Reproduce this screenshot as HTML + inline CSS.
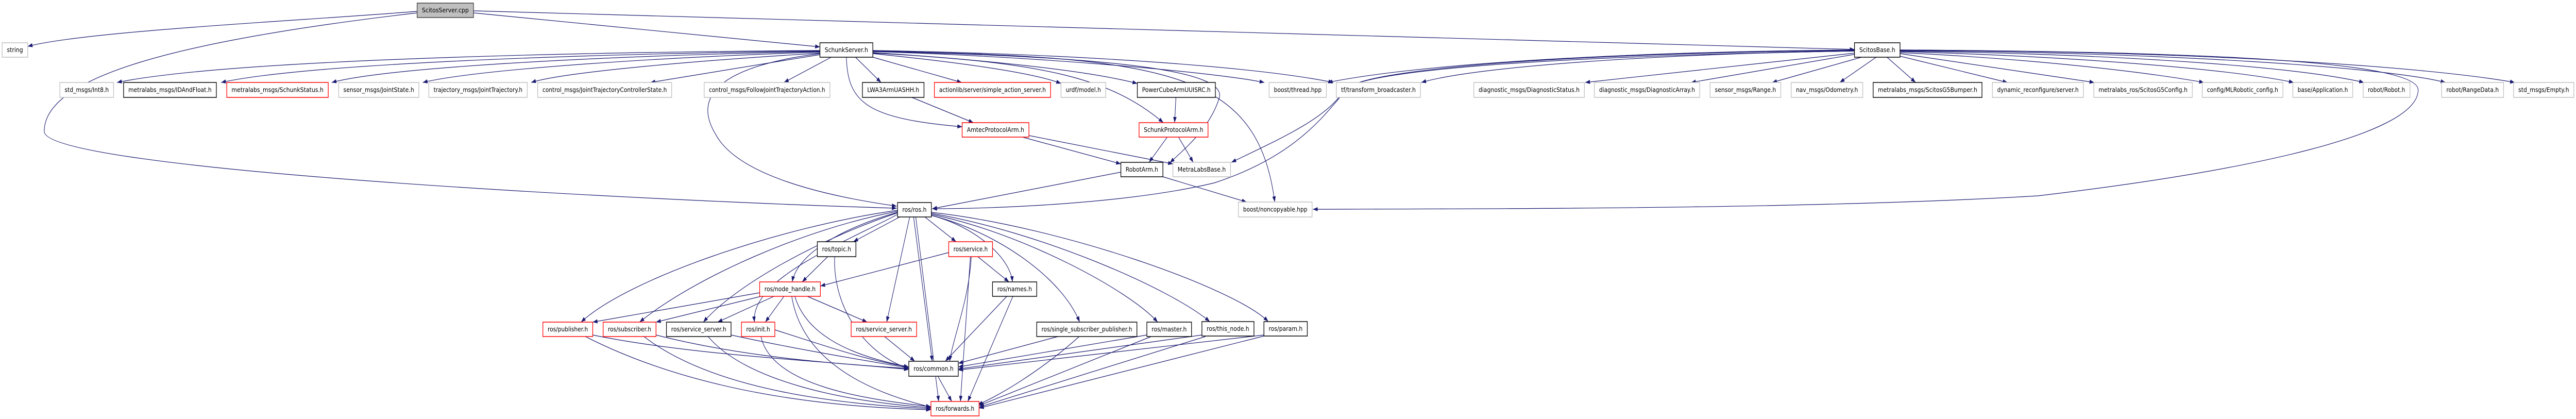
<!DOCTYPE html>
<html><head><meta charset="utf-8"><style>
html,body{margin:0;padding:0;background:#fff;overflow:hidden;width:100%;height:100%;}
svg{display:block;width:100vw;height:100vh;}
text{font-family:"DejaVu Sans","Liberation Sans",sans-serif;font-size:12px;fill:#000;}
.e{fill:none;stroke:#191970;stroke-width:1.2;marker-end:url(#a);}
.g{fill:#fff;stroke:#bfbfbf;stroke-width:1.5;}
.b{fill:#fff;stroke:#000;stroke-width:1.5;}
.r{fill:#fff;stroke:#ff0000;stroke-width:1.5;}
</style></head><body>
<svg viewBox="0 0 5941 813" preserveAspectRatio="none" xmlns="http://www.w3.org/2000/svg" overflow="hidden">
<defs><marker id="a" markerUnits="userSpaceOnUse" markerWidth="11" markerHeight="8" refX="11" refY="4" orient="auto"><path d="M0,0 L11,4 L0,8 z" fill="#191970"/></marker></defs>
<g>
<path class="e" d="M962,22 C700,40 200,60 64,90"/>
<path class="e" d="M962,25 C400,80 102,150 102,255 C102,330 1500,390 2068,404"/>
<path class="e" d="M1092,21 L4277,96"/>
<path class="e" d="M1092,25 L1891,91"/>
<path class="e" d="M1891,98 C1200,102 500,120 270,160"/>
<path class="e" d="M1891,99 C1300,105 700,125 510,160"/>
<path class="e" d="M1891,100 C1400,108 900,130 765,160"/>
<path class="e" d="M1891,101 C1500,112 1100,135 975,160"/>
<path class="e" d="M1891,103 C1600,118 1300,140 1225,160"/>
<path class="e" d="M1891,106 L1500,160"/>
<path class="e" d="M1917,111 L1808,160"/>
<path class="e" d="M1973,111 L2032,160"/>
<path class="e" d="M2013,111 L2218,160"/>
<path class="e" d="M2013,104 C2200,120 2380,140 2447,162"/>
<path class="e" d="M2013,102 C2250,115 2500,135 2623,162"/>
<path class="e" d="M2013,100 C2400,110 2800,140 2916,160"/>
<path class="e" d="M2013,98 C2500,105 2900,130 3075,160"/>
<path class="e" d="M1952,111 C1955,200 2000,230 2219,246"/>
<path class="e" d="M2013,103 C2400,120 2560,150 2683,238"/>
<path class="e" d="M2013,99 C2700,110 2900,140 2940,392"/>
<path class="e" d="M2013,100 C2600,110 2830,140 2812,190 C2790,250 2730,290 2698,316"/>
<path class="e" d="M1891,104 C1650,130 1600,190 1650,260 C1700,340 1900,380 2068,400"/>
<path class="e" d="M4277,97 C3800,100 3300,120 3062,160"/>
<path class="e" d="M4277,99 C3800,105 3400,130 3278,160"/>
<path class="e" d="M4277,103 L3656,160"/>
<path class="e" d="M4280,105 L3900,160"/>
<path class="e" d="M4293,111 L4087,160"/>
<path class="e" d="M4327,111 L4243,160"/>
<path class="e" d="M4352,111 L4418,160"/>
<path class="e" d="M4382,109 L4630,160"/>
<path class="e" d="M4382,104 L4830,160"/>
<path class="e" d="M4382,102 C4700,115 4950,140 5083,160"/>
<path class="e" d="M4382,100 C4800,110 5150,135 5290,160"/>
<path class="e" d="M4382,99 C4900,105 5300,130 5452,160"/>
<path class="e" d="M4382,98 C5000,102 5500,130 5640,160"/>
<path class="e" d="M4382,97 C5100,100 5600,130 5800,160"/>
<path class="e" d="M4382,97 C5100,100 5580,120 5577,175 C5575,260 5200,330 4700,380 C4200,405 3500,405 3028,406"/>
<path class="e" d="M4277,98 C3500,105 3150,140 3110,170 C3060,215 3000,300 2800,355 C2600,395 2300,405 2150,405"/>
<path class="e" d="M4277,99 C3500,110 3130,140 3100,175 C3060,230 2950,270 2840,315"/>
<path class="e" d="M2103,189 L2245,238"/>
<path class="e" d="M2712,189 L2709,238"/>
<path class="e" d="M2358,266 L2585,318"/>
<path class="e" d="M2373,263 L2705,318"/>
<path class="e" d="M2692,266 L2650,315"/>
<path class="e" d="M2718,266 L2752,315"/>
<path class="e" d="M2585,334 L2150,405"/>
<path class="e" d="M2682,343 L2875,392"/>
<path class="e" d="M2075,421 L1968,469"/>
<path class="e" d="M2133,421 L2205,469"/>
<path class="e" d="M2070,412 C1950,440 1840,490 1827,547"/>
<path class="e" d="M2070,408 C1800,440 1450,540 1340,625"/>
<path class="e" d="M2070,410 C1850,445 1600,540 1475,625"/>
<path class="e" d="M2070,413 C1900,460 1700,550 1622,625"/>
<path class="e" d="M2070,416 C1950,470 1730,540 1740,625"/>
<path class="e" d="M2098,421 L2045,625"/>
<path class="e" d="M2107,421 L2150,701"/>
<path class="e" d="M2112,421 L2165,779"/>
<path class="e" d="M2148,418 C2250,440 2330,500 2335,547"/>
<path class="e" d="M2148,418 C2300,450 2450,540 2490,625"/>
<path class="e" d="M2148,416 C2350,450 2600,560 2670,625"/>
<path class="e" d="M2148,414 C2400,450 2700,560 2790,624"/>
<path class="e" d="M2148,412 C2450,440 2850,560 2925,624"/>
<path class="e" d="M1909,498 L1850,547"/>
<path class="e" d="M1925,498 C1920,600 2000,690 2096,715"/>
<path class="e" d="M2188,490 L1892,555"/>
<path class="e" d="M2255,498 L2327,547"/>
<path class="e" d="M2240,498 C2235,580 2200,650 2190,701"/>
<path class="e" d="M2238,498 L2215,779"/>
<path class="e" d="M1752,568 L1367,625"/>
<path class="e" d="M1755,575 L1513,625"/>
<path class="e" d="M1785,575 L1655,625"/>
<path class="e" d="M1808,575 L1765,625"/>
<path class="e" d="M1862,575 L2000,625"/>
<path class="e" d="M1833,575 C1860,650 1960,690 2096,712"/>
<path class="e" d="M1826,575 C1850,700 2000,760 2147,790"/>
<path class="e" d="M1367,650 C1600,690 1900,700 2096,717"/>
<path class="e" d="M1350,653 C1600,760 1900,790 2147,795"/>
<path class="e" d="M1513,650 C1700,690 1900,705 2096,715"/>
<path class="e" d="M1485,653 C1650,760 1950,785 2147,793"/>
<path class="e" d="M1686,650 C1850,680 2000,700 2096,714"/>
<path class="e" d="M1633,653 C1720,740 1950,780 2147,791"/>
<path class="e" d="M1787,640 C1900,670 2000,700 2096,712"/>
<path class="e" d="M1755,653 C1780,750 2000,775 2147,789"/>
<path class="e" d="M2040,653 L2110,701"/>
<path class="e" d="M2322,575 L2180,701"/>
<path class="e" d="M2336,575 L2232,779"/>
<path class="e" d="M2440,653 L2210,705"/>
<path class="e" d="M2489,653 C2400,720 2300,770 2255,785"/>
<path class="e" d="M2645,650 L2210,712"/>
<path class="e" d="M2655,653 L2258,787"/>
<path class="e" d="M2772,650 L2210,716"/>
<path class="e" d="M2780,653 L2258,790"/>
<path class="e" d="M2915,650 L2210,718"/>
<path class="e" d="M2915,652 L2258,792"/>
<path class="e" d="M2163,730 L2195,779"/>
</g>
<g text-anchor="middle" dominant-baseline="central">
<rect x="962" y="6" width="130" height="28" fill="#bfbfbf" stroke="#404040" stroke-width="1.5"/><text x="1027" y="20" textLength="108" lengthAdjust="spacingAndGlyphs">ScitosServer.cpp</text>
<rect class="g" x="5" y="83" width="59" height="28"/><text x="34.5" y="97" textLength="37" lengthAdjust="spacingAndGlyphs">string</text>
<rect class="b" x="1891" y="83" width="122" height="28"/><text x="1952" y="97" textLength="100" lengthAdjust="spacingAndGlyphs">SchunkServer.h</text>
<rect class="b" x="4277" y="83" width="105" height="28"/><text x="4329.5" y="97" textLength="83" lengthAdjust="spacingAndGlyphs">ScitosBase.h</text>
<rect class="g" x="138" y="160" width="124" height="29"/><text x="200" y="174.5" textLength="102" lengthAdjust="spacingAndGlyphs">std_msgs/Int8.h</text>
<rect class="b" x="285" y="160" width="214" height="29"/><text x="392" y="174.5" textLength="192" lengthAdjust="spacingAndGlyphs">metralabs_msgs/IDAndFloat.h</text>
<rect class="r" x="523" y="160" width="234" height="29"/><text x="640" y="174.5" textLength="212" lengthAdjust="spacingAndGlyphs">metralabs_msgs/SchunkStatus.h</text>
<rect class="g" x="781" y="160" width="185" height="29"/><text x="873.5" y="174.5" textLength="163" lengthAdjust="spacingAndGlyphs">sensor_msgs/JointState.h</text>
<rect class="g" x="989" y="160" width="227" height="29"/><text x="1102.5" y="174.5" textLength="205" lengthAdjust="spacingAndGlyphs">trajectory_msgs/JointTrajectory.h</text>
<rect class="g" x="1240" y="160" width="309" height="29"/><text x="1394.5" y="174.5" textLength="287" lengthAdjust="spacingAndGlyphs">control_msgs/JointTrajectoryControllerState.h</text>
<rect class="g" x="1624" y="160" width="290" height="29"/><text x="1769" y="174.5" textLength="268" lengthAdjust="spacingAndGlyphs">control_msgs/FollowJointTrajectoryAction.h</text>
<rect class="b" x="1989" y="160" width="142" height="29"/><text x="2060" y="174.5" textLength="120" lengthAdjust="spacingAndGlyphs">LWA3ArmUASHH.h</text>
<rect class="r" x="2155" y="160" width="268" height="29"/><text x="2289" y="174.5" textLength="246" lengthAdjust="spacingAndGlyphs">actionlib/server/simple_action_server.h</text>
<rect class="g" x="2447" y="160" width="103" height="29"/><text x="2498.5" y="174.5" textLength="81" lengthAdjust="spacingAndGlyphs">urdf/model.h</text>
<rect class="b" x="2623" y="160" width="180" height="29"/><text x="2713" y="174.5" textLength="158" lengthAdjust="spacingAndGlyphs">PowerCubeArmUUISRC.h</text>
<rect class="g" x="2927" y="160" width="132" height="29"/><text x="2993" y="174.5" textLength="110" lengthAdjust="spacingAndGlyphs">boost/thread.hpp</text>
<rect class="g" x="3082" y="160" width="194" height="29"/><text x="3179" y="174.5" textLength="172" lengthAdjust="spacingAndGlyphs">tf/transform_broadcaster.h</text>
<rect class="g" x="3399" y="160" width="255" height="29"/><text x="3526.5" y="174.5" textLength="233" lengthAdjust="spacingAndGlyphs">diagnostic_msgs/DiagnosticStatus.h</text>
<rect class="g" x="3677" y="160" width="243" height="29"/><text x="3798.5" y="174.5" textLength="221" lengthAdjust="spacingAndGlyphs">diagnostic_msgs/DiagnosticArray.h</text>
<rect class="g" x="3944" y="160" width="163" height="29"/><text x="4025.5" y="174.5" textLength="141" lengthAdjust="spacingAndGlyphs">sensor_msgs/Range.h</text>
<rect class="g" x="4131" y="160" width="165" height="29"/><text x="4213.5" y="174.5" textLength="143" lengthAdjust="spacingAndGlyphs">nav_msgs/Odometry.h</text>
<rect class="b" x="4320" y="160" width="251" height="29"/><text x="4445.5" y="174.5" textLength="229" lengthAdjust="spacingAndGlyphs">metralabs_msgs/ScitosG5Bumper.h</text>
<rect class="g" x="4595" y="160" width="210" height="29"/><text x="4700" y="174.5" textLength="188" lengthAdjust="spacingAndGlyphs">dynamic_reconfigure/server.h</text>
<rect class="g" x="4829" y="160" width="227" height="29"/><text x="4942.5" y="174.5" textLength="205" lengthAdjust="spacingAndGlyphs">metralabs_ros/ScitosG5Config.h</text>
<rect class="g" x="5079" y="160" width="186" height="29"/><text x="5172" y="174.5" textLength="164" lengthAdjust="spacingAndGlyphs">config/MLRobotic_config.h</text>
<rect class="g" x="5288" y="160" width="138" height="29"/><text x="5357" y="174.5" textLength="116" lengthAdjust="spacingAndGlyphs">base/Application.h</text>
<rect class="g" x="5450" y="160" width="108" height="29"/><text x="5504" y="174.5" textLength="86" lengthAdjust="spacingAndGlyphs">robot/Robot.h</text>
<rect class="g" x="5631" y="160" width="143" height="29"/><text x="5702.5" y="174.5" textLength="121" lengthAdjust="spacingAndGlyphs">robot/RangeData.h</text>
<rect class="g" x="5797" y="160" width="139" height="29"/><text x="5866.5" y="174.5" textLength="117" lengthAdjust="spacingAndGlyphs">std_msgs/Empty.h</text>
<rect class="r" x="2219" y="238" width="154" height="28"/><text x="2296" y="252" textLength="132" lengthAdjust="spacingAndGlyphs">AmtecProtocolArm.h</text>
<rect class="r" x="2627" y="238" width="159" height="28"/><text x="2706.5" y="252" textLength="137" lengthAdjust="spacingAndGlyphs">SchunkProtocolArm.h</text>
<rect class="b" x="2585" y="315" width="97" height="28"/><text x="2633.5" y="329" textLength="75" lengthAdjust="spacingAndGlyphs">RobotArm.h</text>
<rect class="g" x="2705" y="315" width="133" height="28"/><text x="2771.5" y="329" textLength="111" lengthAdjust="spacingAndGlyphs">MetraLabsBase.h</text>
<rect class="b" x="2070" y="393" width="78" height="28"/><text x="2109" y="407" textLength="56" lengthAdjust="spacingAndGlyphs">ros/ros.h</text>
<rect class="g" x="2856" y="392" width="170" height="29"/><text x="2941" y="406.5" textLength="148" lengthAdjust="spacingAndGlyphs">boost/noncopyable.hpp</text>
<rect class="b" x="1885" y="469" width="89" height="29"/><text x="1929.5" y="483.5" textLength="67" lengthAdjust="spacingAndGlyphs">ros/topic.h</text>
<rect class="r" x="2188" y="469" width="101" height="29"/><text x="2238.5" y="483.5" textLength="79" lengthAdjust="spacingAndGlyphs">ros/service.h</text>
<rect class="r" x="1752" y="547" width="140" height="28"/><text x="1822" y="561" textLength="118" lengthAdjust="spacingAndGlyphs">ros/node_handle.h</text>
<rect class="b" x="2289" y="547" width="102" height="28"/><text x="2340" y="561" textLength="80" lengthAdjust="spacingAndGlyphs">ros/names.h</text>
<rect class="r" x="1252" y="625" width="115" height="28"/><text x="1309.5" y="639" textLength="93" lengthAdjust="spacingAndGlyphs">ros/publisher.h</text>
<rect class="r" x="1391" y="625" width="122" height="28"/><text x="1452" y="639" textLength="100" lengthAdjust="spacingAndGlyphs">ros/subscriber.h</text>
<rect class="b" x="1537" y="625" width="149" height="28"/><text x="1611.5" y="639" textLength="127" lengthAdjust="spacingAndGlyphs">ros/service_server.h</text>
<rect class="r" x="1710" y="625" width="77" height="28"/><text x="1748.5" y="639" textLength="55" lengthAdjust="spacingAndGlyphs">ros/init.h</text>
<rect class="r" x="1963" y="625" width="151" height="28"/><text x="2038.5" y="639" textLength="129" lengthAdjust="spacingAndGlyphs">ros/service_server.h</text>
<rect class="b" x="2391" y="625" width="231" height="28"/><text x="2506.5" y="639" textLength="209" lengthAdjust="spacingAndGlyphs">ros/single_subscriber_publisher.h</text>
<rect class="b" x="2645" y="625" width="103" height="28"/><text x="2696.5" y="639" textLength="81" lengthAdjust="spacingAndGlyphs">ros/master.h</text>
<rect class="b" x="2772" y="624" width="120" height="28"/><text x="2832" y="638" textLength="98" lengthAdjust="spacingAndGlyphs">ros/this_node.h</text>
<rect class="b" x="2915" y="624" width="100" height="28"/><text x="2965" y="638" textLength="78" lengthAdjust="spacingAndGlyphs">ros/param.h</text>
<rect x="2096" y="701" width="114" height="29" fill="#fff" stroke="#404040" stroke-width="2"/><text x="2153" y="715.5" textLength="92" lengthAdjust="spacingAndGlyphs">ros/common.h</text>
<rect class="r" x="2147" y="779" width="111" height="28"/><text x="2202.5" y="793" textLength="89" lengthAdjust="spacingAndGlyphs">ros/forwards.h</text>
</g>
</svg>
</body></html>
